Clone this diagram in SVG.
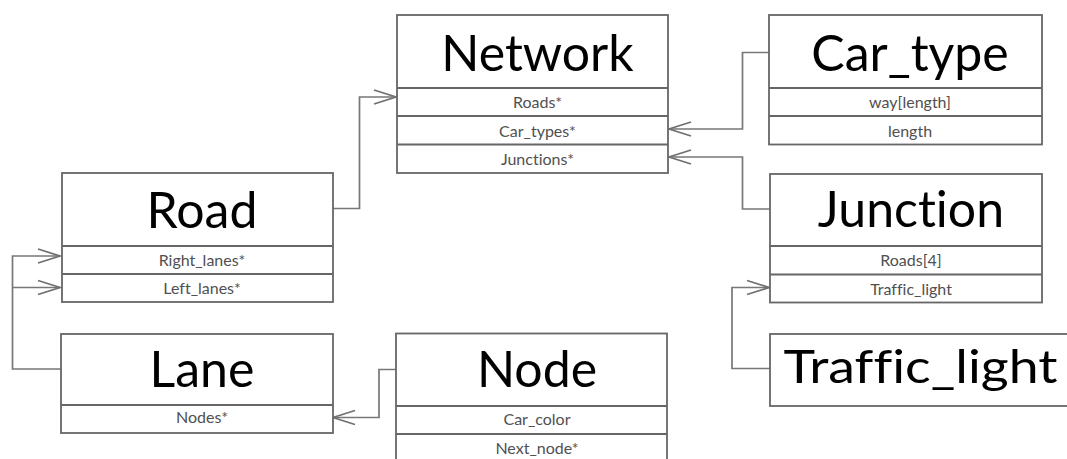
<svg xmlns="http://www.w3.org/2000/svg" width="1067" height="459" viewBox="0 0 1067 459">
<defs>
<marker id="open" markerUnits="userSpaceOnUse" markerWidth="28" markerHeight="20" viewBox="-25 -10 27 20" refX="0" refY="0" orient="auto">
<path d="M-22,-7 L0,0 L-22,7" fill="none" stroke="#707070" stroke-width="1.8"/>
</marker>
</defs>
<style>
.box{fill:#ffffff;stroke:#666666;stroke-width:1.8}
.sep{stroke:#666666;stroke-width:1.8}
.title{font-family:Lato,"Open Sans",sans-serif;font-size:50px;fill:#000000;text-anchor:middle;font-variant-ligatures:none;font-feature-settings:"liga" 0,"clig" 0,"dlig" 0}
.attr{font-family:Lato,"Open Sans",sans-serif;font-size:16px;fill:#505050;text-anchor:middle;font-variant-ligatures:none;font-feature-settings:"liga" 0,"clig" 0}
.conn{fill:none;stroke:#777777;stroke-width:1.7;marker-end:url(#open)}
</style>
<rect width="1067" height="459" fill="#ffffff"/>
<g id="connectors">
<path class="conn" d="M333,208.5 H359.5 V97 H396"/>
<path class="conn" d="M769,52.5 H742.5 V129 H669"/>
<path class="conn" d="M770,209 H742.5 V157 H669"/>
<path class="conn" d="M61,369 H12.5 V256 H60"/>
<path class="conn" d="M12.5,287.5 H60"/>
<path class="conn" d="M396,369.5 H379 V417.5 H333"/>
<path class="conn" d="M770,368.5 H732 V287.5 H769"/>
</g>
<g id="network">
<rect class="box" x="397" y="15" width="271" height="158"/>
<line class="sep" x1="397" y1="88" x2="668" y2="88"/>
<line class="sep" x1="397" y1="116" x2="668" y2="116"/>
<line class="sep" x1="397" y1="144.5" x2="668" y2="144.5"/>
<text class="title" x="537.5" y="71">Network</text>
<text class="attr" x="537.5" y="108">Roads*</text>
<text class="attr" x="537.5" y="136.5">Car_types*</text>
<text class="attr" x="537.5" y="165">Junctions*</text>
</g>
<g id="car_type">
<rect class="box" x="769" y="15" width="273" height="129.5"/>
<line class="sep" x1="769" y1="88" x2="1042" y2="88"/>
<line class="sep" x1="769" y1="116" x2="1042" y2="116"/>
<text class="title" x="910" y="71">Car_type</text>
<text class="attr" x="910" y="108">way[length]</text>
<text class="attr" x="910" y="136.5">length</text>
</g>
<g id="road">
<rect class="box" x="62" y="173" width="271" height="129"/>
<line class="sep" x1="62" y1="246" x2="333" y2="246"/>
<line class="sep" x1="62" y1="274" x2="333" y2="274"/>
<text class="title" x="202" y="228">Road</text>
<text class="attr" x="202" y="266">Right_lanes*</text>
<text class="attr" x="202" y="293.5">Left_lanes*</text>
</g>
<g id="junction">
<rect class="box" x="770" y="174" width="272" height="128.5"/>
<line class="sep" x1="770" y1="246" x2="1042" y2="246"/>
<line class="sep" x1="770" y1="274.5" x2="1042" y2="274.5"/>
<text class="title" x="911" y="227">Junction</text>
<text class="attr" x="911" y="266">Roads[4]</text>
<text class="attr" x="911" y="294.5">Traffic_light</text>
</g>
<g id="lane">
<rect class="box" x="61" y="334" width="272" height="99"/>
<line class="sep" x1="61" y1="405" x2="333" y2="405"/>
<text class="title" x="202" y="387">Lane</text>
<text class="attr" x="202" y="423">Nodes*</text>
</g>
<g id="node">
<rect class="box" x="396" y="333.5" width="271" height="130"/>
<line class="sep" x1="396" y1="406" x2="667" y2="406"/>
<line class="sep" x1="396" y1="434" x2="667" y2="434"/>
<text class="title" x="537" y="386.5">Node</text>
<text class="attr" x="537" y="425">Car_color</text>
<text class="attr" x="537" y="453.5">Next_node*</text>
</g>
<g id="traffic_light">
<rect class="box" x="770" y="334" width="320" height="72"/>
<text class="title" x="920.5" y="383" style="font-size:46px" textLength="274" lengthAdjust="spacingAndGlyphs">Traffic_light</text>
</g>
</svg>
